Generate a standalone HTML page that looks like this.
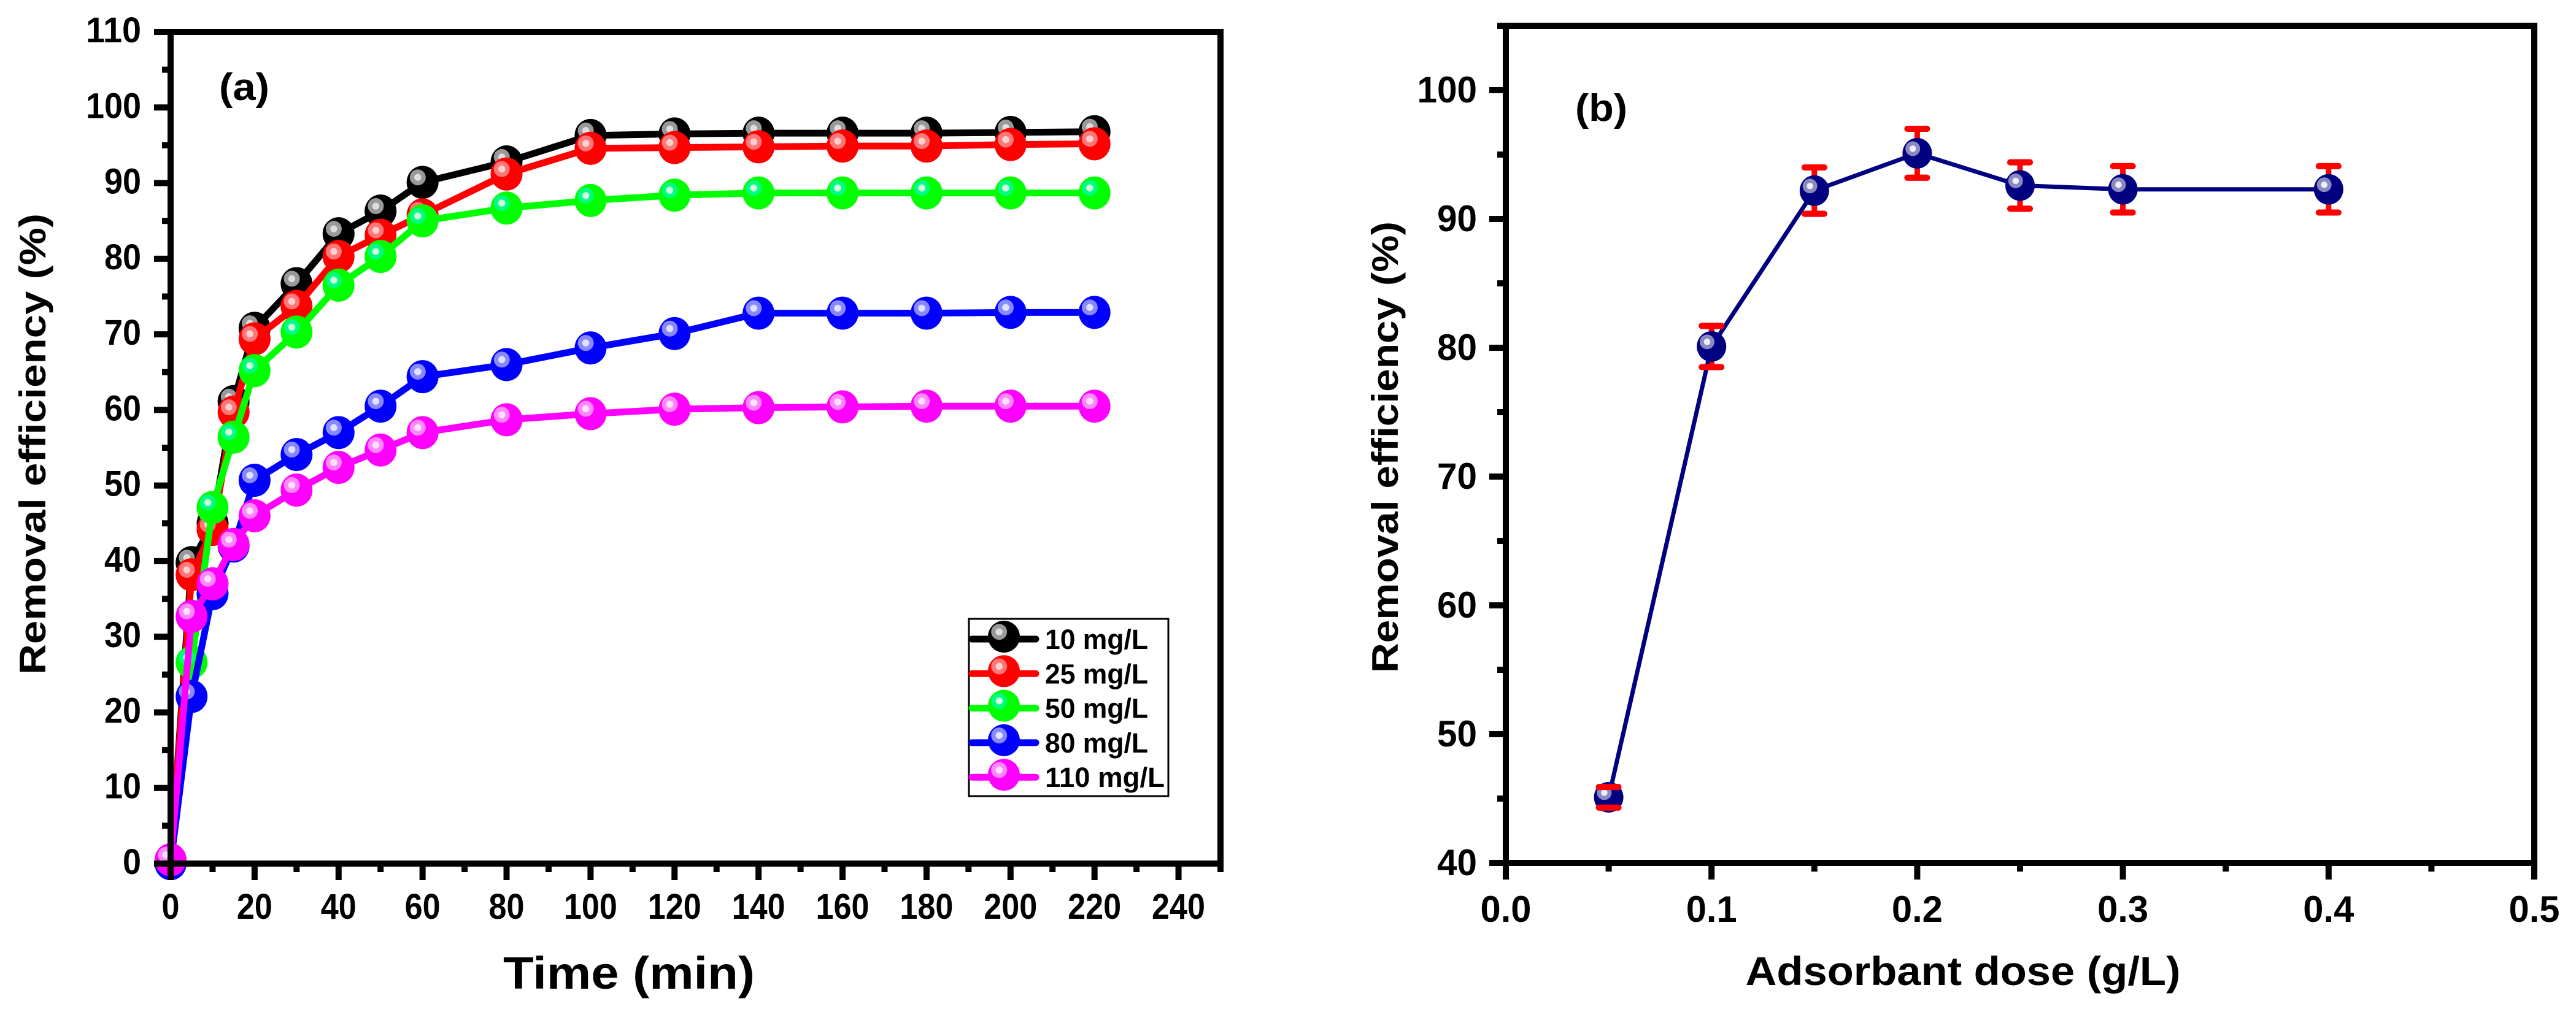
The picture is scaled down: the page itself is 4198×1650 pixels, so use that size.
<!DOCTYPE html>
<html><head><meta charset="utf-8">
<style>
html,body{margin:0;padding:0;background:#fff;}
svg{display:block;}
text{font-family:"Liberation Sans",Arial,sans-serif;font-weight:bold;fill:#000;}
</style></head>
<body>
<svg id="fig" width="4198" height="1650" viewBox="0 0 4198 1650" xmlns="http://www.w3.org/2000/svg">
<rect x="0" y="0" width="4198" height="1650" fill="#fff"/>
<g id="pa"></g>
<g id="pb"></g>
</svg>
<script>
// ---- Panel (a) data ----
const timesA = [0,5,10,15,20,30,40,50,60,80,100,120,140,160,180,200,220];
const s10  = [0,39.8,45.0,61.1,70.8,76.7,83.3,86.3,90.1,92.8,96.3,96.5,96.6,96.6,96.6,96.7,96.8];
const s25  = [0,38.2,44.2,59.7,69.4,73.7,80.3,83.1,85.8,91.2,94.6,94.7,94.8,94.9,94.9,95.1,95.2];
const s50  = [0,26.6,47.1,56.4,65.2,70.3,76.5,80.3,85.0,86.7,87.7,88.4,88.7,88.7,88.7,88.7,88.7];
const s80  = [0,22.1,35.7,42.0,50.7,54.1,57.0,60.5,64.4,66.0,68.2,70.1,72.8,72.8,72.8,72.9,72.9];
const s110 = [0.5,32.7,37.0,42.2,46.0,49.4,52.4,54.7,57.0,58.7,59.5,60.1,60.3,60.4,60.5,60.5,60.5];
const seriesNamesA = ["10 mg/L","25 mg/L","50 mg/L","80 mg/L","110 mg/L"];
const xTicksA = [0,20,40,60,80,100,120,140,160,180,200,220,240];
const yTicksA = [0,10,20,30,40,50,60,70,80,90,100,110];
// ---- Panel (b) data ----
const doseB = [0.05,0.1,0.15,0.2,0.25,0.3,0.4];
const effB  = [45.1,80.1,92.2,95.1,92.6,92.3,92.3];
const errB  = [0.8,1.6,1.8,1.9,1.8,1.8,1.8];
const xTicksB = ["0.0","0.1","0.2","0.3","0.4","0.5"];
const yTicksB = [40,50,60,70,80,90,100];

const NS="http://www.w3.org/2000/svg";
function mk(parent,tag,attrs){const e=document.createElementNS(NS,tag);for(const k in attrs)e.setAttribute(k,attrs[k]);parent.appendChild(e);return e;}

// ===== Panel A =====
const A={x0:278,x1:1989,y0:1408,y1:52,xmin:0,xmax:250,ymin:0,ymax:110};
const xa=v=>A.x0+(v-A.xmin)/(A.xmax-A.xmin)*(A.x1-A.x0);
const ya=v=>A.y0-(v-A.ymin)/(A.ymax-A.ymin)*(A.y0-A.y1);
const pa=document.getElementById('pa');
const colorsA=[["#000","#999","#ddd"],["#f00","#ff7777","#ffd0d0"],["#0f0","#00ff80","#d0ffe0"],["#00f","#8888ff","#e0e0ff"],["#f0f","#ff88ff","#ffe0ff"]];
const dataA=[s10,s25,s50,s80,s110];
function marker(g,cx,cy,c,rx,ry){
  mk(g,'ellipse',{cx:cx,cy:cy,rx:rx,ry:ry,fill:c[0]});
  mk(g,'circle',{cx:cx-rx*0.3,cy:cy-ry*0.3,r:rx*0.5,fill:c[1]});
  mk(g,'circle',{cx:cx-rx*0.3,cy:cy-ry*0.3,r:rx*0.22,fill:c[2]});
}
dataA.forEach((ser,i)=>{
  const g=mk(pa,'g',{});
  
  
  const pts=ser.map((v,j)=>xa(timesA[j])+','+ya(v)).join(' ');
  mk(g,'polyline',{points:pts,fill:'none',stroke:colorsA[i][0],'stroke-width':11,'stroke-linejoin':'round'});
  ser.forEach((v,j)=>marker(g,xa(timesA[j]),ya(v),colorsA[i],26,27));
});
const fa=mk(pa,'rect',{x:A.x0,y:A.y1,width:A.x1-A.x0,height:A.y0-A.y1,fill:'none',stroke:'#000','stroke-width':10});


for(let t=0;t<=250;t+=10){const maj=t%20===0;mk(pa,'line',{x1:xa(t),x2:xa(t),y1:A.y0,y2:A.y0+(maj?27:14),stroke:'#000','stroke-width':10});}
xTicksA.forEach(t=>{const e=mk(pa,'text',{x:xa(t),y:1498,'text-anchor':'middle','font-size':58,textLength:String(t).length*29,lengthAdjust:'spacingAndGlyphs'});e.textContent=t;
 });
for(let v=0;v<=110;v+=5){const maj=v%10===0;mk(pa,'line',{x1:A.x0,x2:A.x0-(maj?27:14),y1:ya(v),y2:ya(v),stroke:'#000','stroke-width':10});}
yTicksA.forEach(v=>{const e=mk(pa,'text',{x:230,y:ya(v)+17,'text-anchor':'end','font-size':58,textLength:String(v).length*30,lengthAdjust:'spacingAndGlyphs'});e.textContent=v;
 });
let t=mk(pa,'text',{x:1025,y:1612,'text-anchor':'middle','font-size':74,textLength:410,lengthAdjust:'spacingAndGlyphs'});t.textContent='Time (min)';

t=mk(pa,'text',{x:0,y:0,'text-anchor':'middle','font-size':60,textLength:752,lengthAdjust:'spacingAndGlyphs',transform:'translate(74,724) rotate(-90)'});t.textContent='Removal efficiency  (%)';

t=mk(pa,'text',{x:357,y:163,'font-size':62,textLength:82,lengthAdjust:'spacingAndGlyphs'});t.textContent='(a)';

const lg=mk(pa,'g',{});


mk(lg,'rect',{x:1579,y:1009,width:325,height:289,fill:'#fff',stroke:'#000','stroke-width':3});
seriesNamesA.forEach((n,i)=>{
  const cy=1042+i*56.3;
  const e=mk(lg,'g',{});
  
  
  mk(e,'line',{x1:1584,x2:1688,y1:cy,y2:cy,stroke:colorsA[i][0],'stroke-width':11,'stroke-linecap':'round'});
  marker(e,1636,cy-4,colorsA[i],26,26);
  const tx=mk(e,'text',{x:1703,y:cy+16,'font-size':45,textLength:(n.length===7?168:195),lengthAdjust:'spacingAndGlyphs'});tx.textContent=n;
});

// ===== Panel B =====
const B={x0:2454,x1:4130,y0:1407,y1:42,xmin:0,xmax:0.5,ymin:40,ymax:105};
const xb=v=>B.x0+(v-B.xmin)/(B.xmax-B.xmin)*(B.x1-B.x0);
const yb=v=>B.y0-(v-B.ymin)/(B.ymax-B.ymin)*(B.y0-B.y1);
const pb=document.getElementById('pb');
const gb=mk(pb,'g',{});


doseB.forEach((d,i)=>{
  const x=xb(d),yt=yb(effB[i]+errB[i]),yl=yb(effB[i]-errB[i]);
  const eb=mk(gb,'g',{});
  
  
  mk(eb,'line',{x1:x,x2:x,y1:yt,y2:yl,stroke:'#f00','stroke-width':9});
  mk(eb,'line',{x1:x-16,x2:x+16,y1:yt,y2:yt,stroke:'#f00','stroke-width':10,'stroke-linecap':'round'});
  mk(eb,'line',{x1:x-16,x2:x+16,y1:yl,y2:yl,stroke:'#f00','stroke-width':10,'stroke-linecap':'round'});
});
mk(gb,'polyline',{points:doseB.map((d,i)=>xb(d)+','+yb(effB[i])).join(' '),fill:'none',stroke:'#000080','stroke-width':7,'stroke-linejoin':'round'});
doseB.forEach((d,i)=>marker(gb,xb(d),yb(effB[i]),["#000080","#8a8ac0","#eeeef8"],24,25));
doseB.forEach((d,i)=>{
  const x=xb(d),yt=yb(effB[i]+errB[i]),yl=yb(effB[i]-errB[i]);
  mk(gb,'line',{x1:x-16,x2:x+16,y1:yt,y2:yt,stroke:'#f00','stroke-width':10,'stroke-linecap':'round'});
  mk(gb,'line',{x1:x-16,x2:x+16,y1:yl,y2:yl,stroke:'#f00','stroke-width':10,'stroke-linecap':'round'});
});
const fb=mk(pb,'rect',{x:B.x0,y:B.y1,width:B.x1-B.x0,height:B.y0-B.y1,fill:'none',stroke:'#000','stroke-width':10});


for(let k=0;k<=10;k++){const v=k*0.05;const maj=k%2===0;mk(pb,'line',{x1:xb(v),x2:xb(v),y1:B.y0,y2:B.y0+(maj?27:14),stroke:'#000','stroke-width':10});}
xTicksB.forEach(s=>{const e=mk(pb,'text',{x:xb(parseFloat(s)),y:1503,'text-anchor':'middle','font-size':60,textLength:83,lengthAdjust:'spacingAndGlyphs'});e.textContent=s;
 });
for(let v=40;v<=105;v+=5){const maj=v%10===0;mk(pb,'line',{x1:B.x0,x2:B.x0-(maj?27:14),y1:yb(v),y2:yb(v),stroke:'#000','stroke-width':10});}
yTicksB.forEach(v=>{const e=mk(pb,'text',{x:2407,y:yb(v)+20,'text-anchor':'end','font-size':60,textLength:String(v).length*32.5,lengthAdjust:'spacingAndGlyphs'});e.textContent=v;
 });
t=mk(pb,'text',{x:3199,y:1606,'text-anchor':'middle','font-size':66,textLength:709,lengthAdjust:'spacingAndGlyphs'});t.textContent='Adsorbant dose (g/L)';

t=mk(pb,'text',{x:0,y:0,'text-anchor':'middle','font-size':60,textLength:736,lengthAdjust:'spacingAndGlyphs',transform:'translate(2278,729) rotate(-90)'});t.textContent='Removal efficiency (%)';

t=mk(pb,'text',{x:2567,y:197,'font-size':62,textLength:85,lengthAdjust:'spacingAndGlyphs'});t.textContent='(b)';

</script>
</body></html>
